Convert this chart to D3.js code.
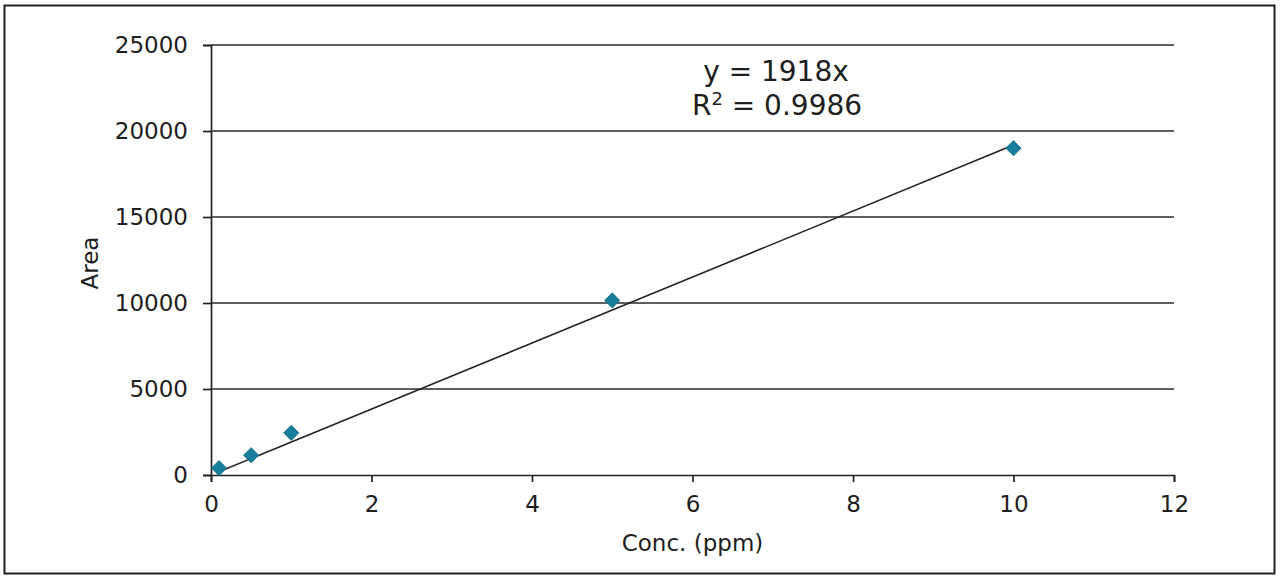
<!DOCTYPE html>
<html>
<head>
<meta charset="utf-8">
<script src="https://cdn.jsdelivr.net/npm/d3@7"></script>
<style>
  body { margin: 0; background: #fff; }
  svg { display: block; font-family: "DejaVu Sans", Verdana, sans-serif; }
</style>
</head>
<body>
<div id="chart"></div>
<script>
// Calibration points
var conc = [0.1, 0.5, 1, 5, 10];
var area = [400, 1150, 2450, 10150, 19000];
var xTicks = [0, 2, 4, 6, 8, 10, 12];
var yTicks = [0, 5000, 10000, 15000, 20000, 25000];
var slope = 1918;
var trendX = [0.1, 10];

var width = 1280, height = 580;
var margin = {left: 211, right: 106, top: 45, bottom: 105};

var svg = d3.select("#chart").append("svg")
    .attr("width", width)
    .attr("height", height);

// outer frame
svg.append("rect")
    .attr("x", 4.5).attr("y", 5.5)
    .attr("width", 1270).attr("height", 568)
    .style("fill", "none")
    .style("stroke", "#222")
    .style("stroke-width", 2);

var x = d3.scaleLinear().domain([0, 12]).range([margin.left, width - margin.right]);
var y = d3.scaleLinear().domain([0, 25000]).range([height - margin.bottom, margin.top]);

// horizontal gridlines
svg.append("g").selectAll("line")
    .data(yTicks.filter(function(d) { return d > 0; }))
    .join("line")
    .attr("x1", x(0)).attr("x2", x(12))
    .attr("y1", function(d) { return y(d); })
    .attr("y2", function(d) { return y(d); })
    .style("stroke", "#2a2a2a")
    .style("stroke-width", 1.7);

// y axis
var yAxis = svg.append("g")
    .attr("transform", "translate(" + x(0) + ",0)")
    .call(d3.axisLeft(y).tickValues(yTicks).tickFormat(d3.format("d")).tickSize(8).tickPadding(15));

// x axis
var xAxis = svg.append("g")
    .attr("transform", "translate(0," + y(0) + ")")
    .call(d3.axisBottom(x).tickValues(xTicks).tickSize(7).tickPadding(14));

[yAxis, xAxis].forEach(function(a) {
    a.attr("font-size", null).attr("font-family", null);
    a.select(".domain").style("stroke", "#222").style("stroke-width", 1.7);
    a.selectAll(".tick line").style("stroke", "#222").style("stroke-width", 1.7);
    a.selectAll("text")
        .style("font-size", "23px")
        .style("fill", "#1e1e1e");
});

// trend line
svg.append("line")
    .attr("x1", x(trendX[0])).attr("y1", y(slope * trendX[0]))
    .attr("x2", x(trendX[1])).attr("y2", y(slope * trendX[1]))
    .style("stroke", "#222")
    .style("stroke-width", 1.6);

// markers
svg.append("g").selectAll("path")
    .data(conc)
    .join("path")
    .attr("d", d3.symbol().type(d3.symbolSquare).size(115))
    .attr("transform", function(d, i) {
        return "translate(" + x(d) + "," + y(area[i]) + ") rotate(45)";
    })
    .style("fill", "#177f9b")
    .style("stroke", "#0f6a84")
    .style("stroke-width", 0.8);

// equation label
var eq = svg.append("text")
    .attr("x", 776).attr("y", 81)
    .attr("text-anchor", "middle")
    .style("font-size", "28px")
    .style("fill", "#1e1e1e")
    .text("y = 1918x");

var r2 = svg.append("text")
    .attr("x", 777).attr("y", 115)
    .attr("text-anchor", "middle")
    .style("font-size", "28px")
    .style("fill", "#1e1e1e");
r2.append("tspan").text("R");
r2.append("tspan").attr("dy", -10).style("font-size", "18px").text("2");
r2.append("tspan").attr("dy", 10).text(" = 0.9986");

// axis titles
svg.append("text")
    .attr("x", x(6)).attr("y", 551)
    .attr("text-anchor", "middle")
    .style("font-size", "23px")
    .style("fill", "#1e1e1e")
    .text("Conc. (ppm)");

svg.append("text")
    .attr("transform", "translate(98,263) rotate(-90)")
    .attr("text-anchor", "middle")
    .style("font-size", "23px")
    .style("fill", "#1e1e1e")
    .text("Area");
</script>
</body>
</html>
